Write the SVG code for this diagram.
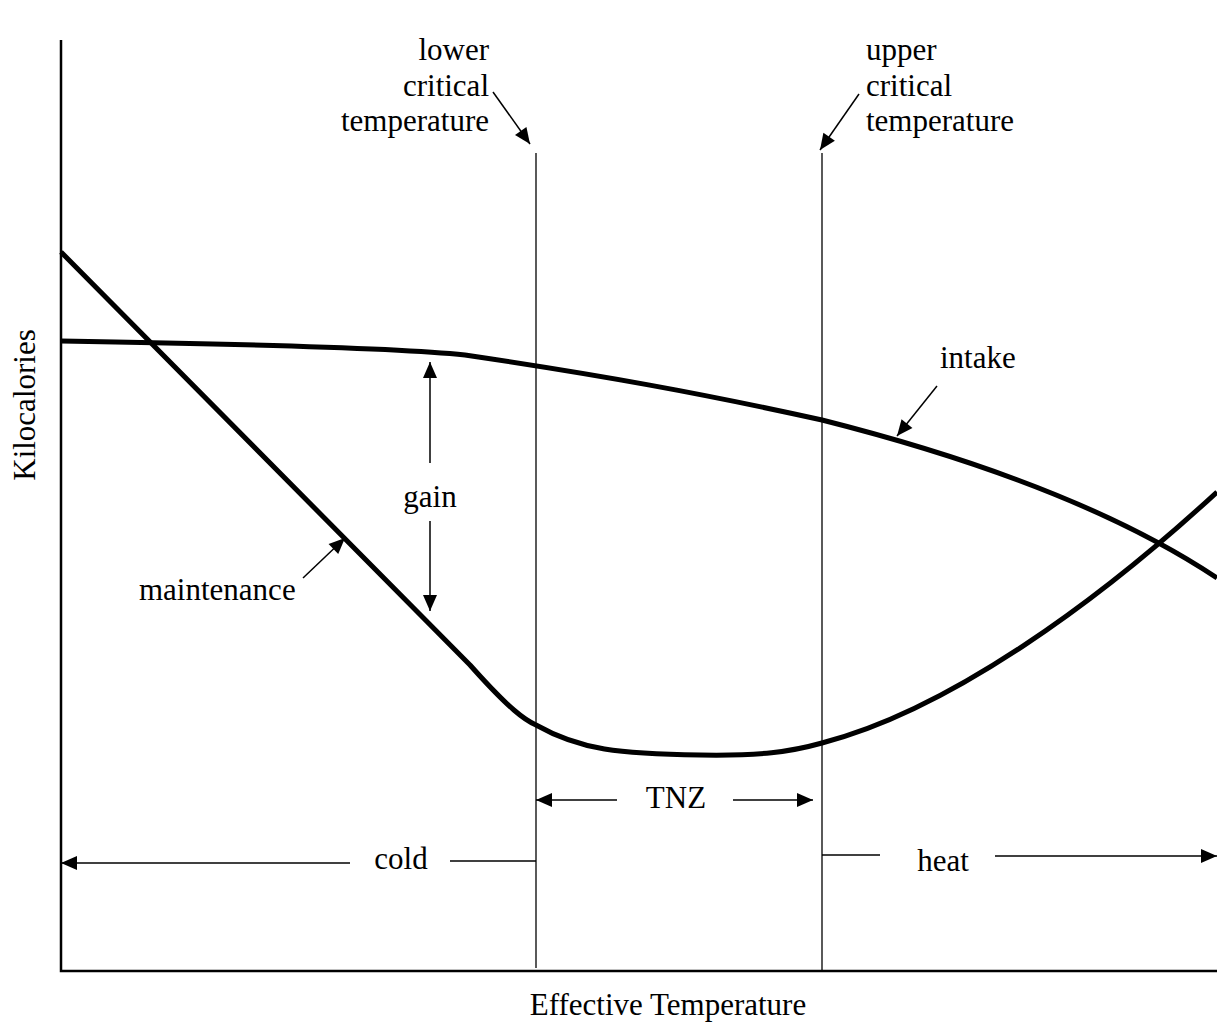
<svg xmlns="http://www.w3.org/2000/svg" width="1217" height="1023" viewBox="0 0 1217 1023">
<style>
text{font-family:"Liberation Serif","Times New Roman",serif;font-size:31px;fill:#000}
.ax{stroke:#000;stroke-width:2.5;fill:none}
.thin{stroke:#000;stroke-width:1.3;fill:none}
.curve{stroke:#000;stroke-width:5;fill:none;stroke-linejoin:round}
.arr{stroke:#000;stroke-width:1.5;fill:none;marker-end:url(#ah)}
</style>
<defs>
<marker id="ah" viewBox="0 0 10 10" refX="10" refY="5" markerWidth="10" markerHeight="10" markerUnits="userSpaceOnUse" orient="auto" overflow="visible">
<path d="M-6,-2 L10,5 L-6,12 Z" fill="#000" stroke="none"/>
</marker>
</defs>
<rect width="1217" height="1023" fill="#fff"/>
<g id="axes">
<path class="ax" d="M61,40 L61,971 L1217,971"/>
<text x="25" y="405" text-anchor="middle" transform="rotate(-90 25 405)" dy="10">Kilocalories</text>
<text x="668" y="1015" text-anchor="middle">Effective Temperature</text>
</g>
<g id="critical-lines">
<line class="thin" x1="536" y1="153" x2="536" y2="968"/>
<line class="thin" x1="822" y1="153" x2="822" y2="970"/>
</g>
<g id="intake">
<path class="curve" d="M61,341 C250,344 400,348 465,355 C600,375 700,393 822,420 C1000,465 1130,520 1217,578"/>
<text x="940" y="368">intake</text>
</g>
<g id="maintenance">
<path class="curve" d="M61,252 L470,665 C510,710 525,720 536,725 C580,750 620,754 700,755 C760,756 790,752 822,743 C950,710 1100,600 1217,492"/>
<text x="139" y="600">maintenance</text>
</g>
<g id="lower-label">
<text x="489" y="60" text-anchor="end">lower</text>
<text x="489" y="96" text-anchor="end">critical</text>
<text x="489" y="131" text-anchor="end">temperature</text>
</g>
<g id="upper-label">
<text x="866" y="60">upper</text>
<text x="866" y="96">critical</text>
<text x="866" y="131">temperature</text>
</g>
<g id="gain"><text x="430" y="507" text-anchor="middle">gain</text></g>
<g id="tnz"><text x="676" y="808" text-anchor="middle">TNZ</text></g>
<g id="cold"><text x="401" y="869" text-anchor="middle">cold</text></g>
<g id="heat"><text x="943" y="871" text-anchor="middle">heat</text></g>
<g id="connectors">
<line class="arr" x1="493" y1="92" x2="530" y2="144"/>
<line class="arr" x1="859" y1="94" x2="820" y2="150"/>
<line class="arr" x1="430" y1="463" x2="430" y2="362"/>
<line class="arr" x1="430" y1="521" x2="430" y2="611"/>
<line class="arr" x1="303" y1="578" x2="345" y2="538"/>
<line class="arr" x1="937" y1="386" x2="897" y2="436"/>
<line class="arr" x1="617" y1="800" x2="536" y2="800"/>
<line class="arr" x1="733" y1="800" x2="813" y2="800"/>
<line class="arr" x1="350" y1="863" x2="61" y2="863"/>
<line class="thin" x1="450" y1="861" x2="536" y2="861"/>
<line class="thin" x1="822" y1="855" x2="880" y2="855"/>
<line class="arr" x1="995" y1="856" x2="1217" y2="856"/>
</g>
</svg>
